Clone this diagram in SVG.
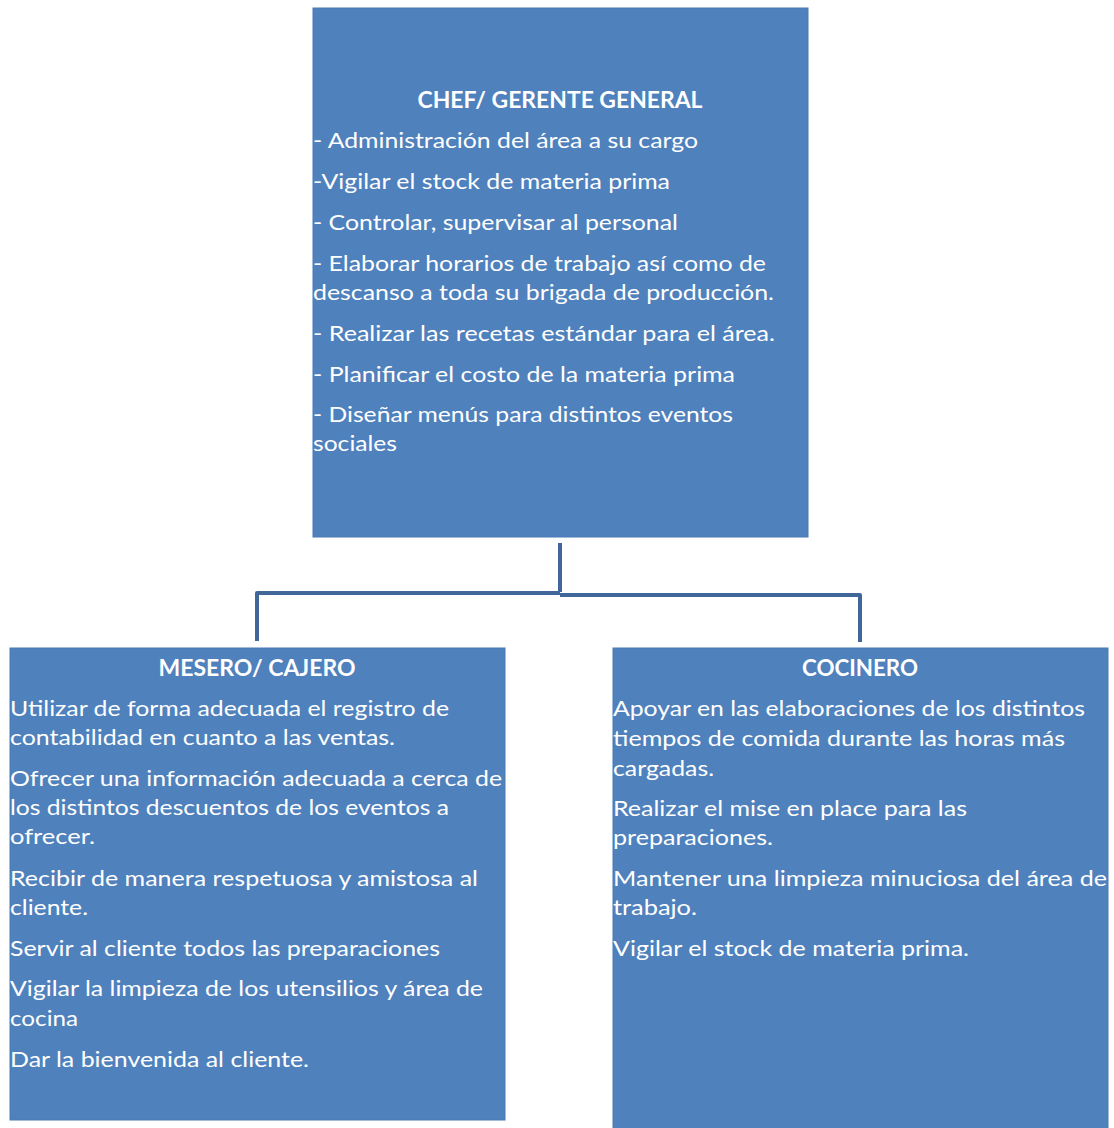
<svg xmlns="http://www.w3.org/2000/svg" width="1114" height="1128" viewBox="0 0 1114 1128">
<style>
.box{fill:#4F81BD;stroke:#4A7AB5;stroke-width:1}
.t{font-family:Lato,"Open Sans","Liberation Sans",sans-serif;font-size:22px;fill:#ffffff}
.h{font-family:Lato,"Open Sans","Liberation Sans",sans-serif;font-size:22px;font-weight:bold;fill:#ffffff;text-anchor:middle}
.c{fill:none;stroke:#41679A;stroke-width:4;stroke-linejoin:round}
</style>
<rect width="1114" height="1128" fill="#ffffff"/>
<g id="connectors">
<path class="c" d="M560,543 V592"/>
<path class="c" d="M257,641 V593 H560"/>
<path class="c" d="M560,595 H860 V642"/>
</g>
<g id="chef">
<rect class="box" x="313" y="8" width="495" height="529"/>
<text class="h" x="560" y="108" textLength="285" lengthAdjust="spacingAndGlyphs">CHEF/ GERENTE GENERAL</text>
<text class="t" x="313" y="148" textLength="385" lengthAdjust="spacingAndGlyphs">- Administración del área a su cargo</text>
<text class="t" x="313" y="189" textLength="357" lengthAdjust="spacingAndGlyphs">-Vigilar el stock de materia prima</text>
<text class="t" x="313" y="230" textLength="365" lengthAdjust="spacingAndGlyphs">- Controlar, supervisar al personal</text>
<text class="t" x="313" y="271" textLength="453" lengthAdjust="spacingAndGlyphs">- Elaborar horarios de trabajo así como de</text>
<text class="t" x="313" y="300" textLength="461" lengthAdjust="spacingAndGlyphs">descanso a toda su brigada de producción.</text>
<text class="t" x="313" y="341" textLength="462" lengthAdjust="spacingAndGlyphs">- Realizar las recetas estándar para el área.</text>
<text class="t" x="313" y="382" textLength="422" lengthAdjust="spacingAndGlyphs">- Planificar el costo de la materia prima</text>
<text class="t" x="313" y="422" textLength="420" lengthAdjust="spacingAndGlyphs">- Diseñar menús para distintos eventos</text>
<text class="t" x="313" y="451" textLength="84" lengthAdjust="spacingAndGlyphs">sociales</text>
</g>
<g id="mesero">
<rect class="box" x="10" y="648" width="495" height="472"/>
<text class="h" x="257" y="676" textLength="197" lengthAdjust="spacingAndGlyphs">MESERO/ CAJERO</text>
<text class="t" x="10" y="716" textLength="439" lengthAdjust="spacingAndGlyphs">Utilizar de forma adecuada el registro de</text>
<text class="t" x="10" y="745" textLength="385" lengthAdjust="spacingAndGlyphs">contabilidad en cuanto a las ventas.</text>
<text class="t" x="10" y="786" textLength="492" lengthAdjust="spacingAndGlyphs">Ofrecer una información adecuada a cerca de</text>
<text class="t" x="10" y="815" textLength="439" lengthAdjust="spacingAndGlyphs">los distintos descuentos de los eventos a</text>
<text class="t" x="10" y="844" textLength="85" lengthAdjust="spacingAndGlyphs">ofrecer.</text>
<text class="t" x="10" y="886" textLength="468" lengthAdjust="spacingAndGlyphs">Recibir de manera respetuosa y amistosa al</text>
<text class="t" x="10" y="915" textLength="78" lengthAdjust="spacingAndGlyphs">cliente.</text>
<text class="t" x="10" y="956" textLength="430" lengthAdjust="spacingAndGlyphs">Servir al cliente todos las preparaciones</text>
<text class="t" x="10" y="996" textLength="473" lengthAdjust="spacingAndGlyphs">Vigilar la limpieza de los utensilios y área de</text>
<text class="t" x="10" y="1026" textLength="68" lengthAdjust="spacingAndGlyphs">cocina</text>
<text class="t" x="10" y="1067" textLength="299" lengthAdjust="spacingAndGlyphs">Dar la bienvenida al cliente.</text>
</g>
<g id="cocinero">
<rect class="box" x="613" y="648" width="495" height="482"/>
<text class="h" x="860" y="676" textLength="116" lengthAdjust="spacingAndGlyphs">COCINERO</text>
<text class="t" x="613" y="716" textLength="472" lengthAdjust="spacingAndGlyphs">Apoyar en las elaboraciones de los distintos</text>
<text class="t" x="613" y="746" textLength="452" lengthAdjust="spacingAndGlyphs">tiempos de comida durante las horas más</text>
<text class="t" x="613" y="776" textLength="101" lengthAdjust="spacingAndGlyphs">cargadas.</text>
<text class="t" x="613" y="816" textLength="354" lengthAdjust="spacingAndGlyphs">Realizar el mise en place para las</text>
<text class="t" x="613" y="845" textLength="160" lengthAdjust="spacingAndGlyphs">preparaciones.</text>
<text class="t" x="613" y="886" textLength="494" lengthAdjust="spacingAndGlyphs">Mantener una limpieza minuciosa del área de</text>
<text class="t" x="613" y="915" textLength="84" lengthAdjust="spacingAndGlyphs">trabajo.</text>
<text class="t" x="613" y="956" textLength="356" lengthAdjust="spacingAndGlyphs">Vigilar el stock de materia prima.</text>
</g>
</svg>
